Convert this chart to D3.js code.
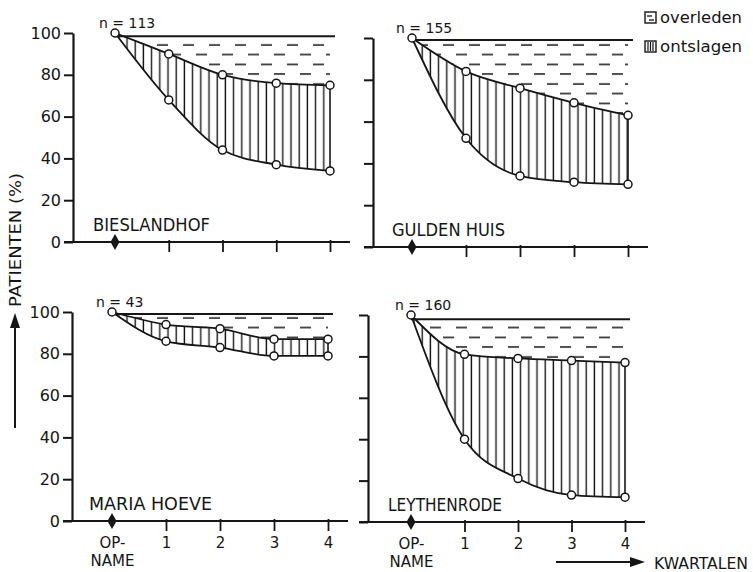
<!DOCTYPE html>
<html><head><meta charset="utf-8">
<script src="https://cdn.jsdelivr.net/npm/d3@7"></script>
<style>body{margin:0;background:#fff} svg{display:block}</style>
</head><body><svg id="c" width="753" height="572"></svg>
<script>
// ---- data ----
const xCategories = ["OP-NAME", "1", "2", "3", "4"];
const yTickValues = [0, 20, 40, 60, 80, 100];
const panelNames = ["BIESLANDHOF", "GULDEN HUIS", "MARIA HOEVE", "LEYTHENRODE"];
const nValues = [113, 155, 43, 160];
const topLineValues = [98.5, 99, 99, 98];
const upperBieslandhof = [100, 90, 80, 76, 75];
const lowerBieslandhof = [100, 68, 44, 37, 34];
const upperGuldenHuis = [100, 84, 76, 69, 63];
const lowerGuldenHuis = [100, 52, 34, 31, 30];
const upperMariaHoeve = [100, 94, 92, 87, 87];
const lowerMariaHoeve = [100, 86, 83, 79, 79];
const upperLeythenrode = [100, 81, 79, 78, 77];
const lowerLeythenrode = [100, 40, 21, 13, 12];
const legendLabels = ["overleden", "ontslagen"];
const yAxisTitle = "PATIENTEN (%)";
const xAxisTitle = "KWARTALEN";

const panelUpper = [upperBieslandhof, upperGuldenHuis, upperMariaHoeve, upperLeythenrode];
const panelLower = [lowerBieslandhof, lowerGuldenHuis, lowerMariaHoeve, lowerLeythenrode];

// ---- layout ----
const frames = [
  {axisX: 73,  opX: 115, lastX: 330, y0: 242, y100: 33,  yLabels: true,  xLabels: false, nameX: 93,  nameW: 117},
  {axisX: 373, opX: 412, lastX: 628, y0: 247, y100: 38,  yLabels: false, xLabels: false, nameX: 392, nameW: 113},
  {axisX: 72,  opX: 112, lastX: 328, y0: 521, y100: 312, yLabels: true,  xLabels: true,  nameX: 89,  nameW: 123},
  {axisX: 368, opX: 411, lastX: 625, y0: 522, y100: 315, yLabels: false, xLabels: true,  nameX: 388, nameW: 114}
];

const ink = "#161616";
const svg = d3.select("#c");
svg.append("rect").attr("width", 753).attr("height", 572).attr("fill", "#fff");

const defs = svg.append("defs");
const pv = defs.append("pattern").attr("id", "vert").attr("patternUnits", "userSpaceOnUse")
  .attr("width", 8.2).attr("height", 10);
pv.append("line").attr("x1", 4).attr("x2", 4).attr("y1", 0).attr("y2", 10)
  .attr("stroke", ink).attr("stroke-width", 1.4);
const pd = defs.append("pattern").attr("id", "dash").attr("patternUnits", "userSpaceOnUse")
  .attr("width", 26).attr("height", 19.5);
pd.append("line").attr("x1", 1).attr("x2", 12).attr("y1", 6).attr("y2", 6)
  .attr("stroke", ink).attr("stroke-width", 1.5);
pd.append("line").attr("x1", 14).attr("x2", 25).attr("y1", 15.5).attr("y2", 15.5)
  .attr("stroke", ink).attr("stroke-width", 1.5);

const font = "'DejaVu Sans', sans-serif";

frames.forEach((f, i) => {
  const g = svg.append("g");
  const x = d3.scalePoint().domain(xCategories).range([f.opX, f.lastX]);
  const y = d3.scaleLinear().domain([0, 100]).range([f.y0, f.y100]);
  const upper = panelUpper[i], lower = panelLower[i];
  const rows = xCategories.map((c, k) => ({c, top: topLineValues[i], up: upper[k], lo: lower[k]}));
  const curve = d3.curveMonotoneX;

  // hatched areas
  g.append("path").datum(rows)
    .attr("d", d3.area().curve(curve).x(d => x(d.c)).y0(d => y(d.top)).y1(d => y(d.up)))
    .attr("fill", "url(#dash)");
  g.append("path").datum(rows)
    .attr("d", d3.area().curve(curve).x(d => x(d.c)).y0(d => y(d.up)).y1(d => y(d.lo)))
    .attr("fill", "url(#vert)");

  // top line
  g.append("line").attr("x1", x(xCategories[0])).attr("x2", f.lastX + 5)
    .attr("y1", y(topLineValues[i])).attr("y2", y(topLineValues[i]))
    .attr("stroke", ink).attr("stroke-width", 2);
  // curves
  const line = d3.line().curve(curve).x(d => x(d.c));
  g.append("path").datum(rows).attr("d", line.y(d => y(d.up)))
    .attr("fill", "none").attr("stroke", ink).attr("stroke-width", 1.8);
  g.append("path").datum(rows).attr("d", line.y(d => y(d.lo)))
    .attr("fill", "none").attr("stroke", ink).attr("stroke-width", 1.8);
  // right edge
  const last = rows[rows.length - 1];
  g.append("line").attr("x1", x(last.c)).attr("x2", x(last.c))
    .attr("y1", y(last.up)).attr("y2", y(last.lo))
    .attr("stroke", ink).attr("stroke-width", 1.6);

  // circles
  const pts = [];
  rows.forEach((d, k) => {
    pts.push({c: d.c, v: d.up});
    if (k > 0) pts.push({c: d.c, v: d.lo});
  });
  g.selectAll("circle.pt").data(pts).join("circle").attr("class", "pt")
    .attr("cx", d => x(d.c)).attr("cy", d => y(d.v)).attr("r", 4)
    .attr("fill", "#fff").attr("stroke", ink).attr("stroke-width", 1.5);

  // n label
  g.append("text").attr("x", x(xCategories[0]) - 16).attr("y", y(100) - 5)
    .attr("font-family", font).attr("font-size", 14).attr("fill", ink)
    .text("n = " + nValues[i]);

  // y axis
  const ya = g.append("g").attr("transform", `translate(${f.axisX},0)`)
    .call(d3.axisLeft(y).tickValues(yTickValues).tickSize(9).tickSizeOuter(0).tickPadding(3)
      .tickFormat(f.yLabels ? d3.format("d") : () => ""));
  ya.select(".domain").attr("stroke", ink).attr("stroke-width", 2.2);
  ya.selectAll(".tick line").attr("stroke", ink).attr("stroke-width", 2);
  ya.selectAll(".tick text").attr("font-family", font).attr("font-size", 16).attr("fill", ink);

  // x axis
  const xa = g.append("g").attr("transform", `translate(0,${f.y0})`)
    .call(d3.axisBottom(x).tickSize(10).tickSizeOuter(0).tickPadding(6)
      .tickFormat(f.xLabels ? (d => d === xCategories[0] ? "OP-" : d) : () => ""));
  xa.select(".domain").remove();
  xa.insert("line", ":first-child").attr("x1", f.axisX - 9).attr("x2", f.lastX + 20)
    .attr("y1", 0).attr("y2", 0).attr("stroke", ink).attr("stroke-width", 2.2);
  xa.selectAll(".tick line").attr("stroke", ink).attr("stroke-width", 1.8)
    .attr("y1", -2)
    .attr("opacity", d => d === xCategories[0] ? 0 : 1);
  xa.selectAll(".tick text").attr("font-family", font).attr("font-size", 15).attr("fill", ink);
  if (f.xLabels) {
    // second line of the admission label
    xa.selectAll(".tick").filter(d => d === xCategories[0]).append("text")
      .attr("y", 34).attr("dy", "0.71em").attr("text-anchor", "middle")
      .attr("font-family", font).attr("font-size", 15).attr("fill", ink).text("NAME");
  }
  // diamond at admission
  const ox = x(xCategories[0]);
  g.append("path").attr("d", `M${ox},${f.y0 - 8}L${ox + 4.5},${f.y0}L${ox},${f.y0 + 8}L${ox - 4.5},${f.y0}Z`)
    .attr("fill", ink);

  // panel name
  g.append("text").attr("x", f.nameX).attr("y", f.y0 - 11)
    .attr("font-family", font).attr("font-size", 17).attr("fill", ink)
    .attr("textLength", f.nameW).attr("lengthAdjust", "spacingAndGlyphs")
    .text(panelNames[i]);
});

// y axis title + arrow
svg.append("text").attr("transform", "translate(21,240) rotate(-90)")
  .attr("text-anchor", "middle").attr("font-family", font).attr("font-size", 16).attr("fill", ink)
  .attr("textLength", 134).attr("lengthAdjust", "spacingAndGlyphs").text(yAxisTitle);
svg.append("line").attr("x1", 15).attr("x2", 15).attr("y1", 428).attr("y2", 326)
  .attr("stroke", ink).attr("stroke-width", 2);
svg.append("path").attr("d", "M15,313L10,328L20,328Z").attr("fill", ink);

// x axis title + arrow
svg.append("line").attr("x1", 556).attr("x2", 632).attr("y1", 562).attr("y2", 562)
  .attr("stroke", ink).attr("stroke-width", 2);
svg.append("path").attr("d", "M645,562L630,557L630,567Z").attr("fill", ink);
svg.append("text").attr("x", 654).attr("y", 569)
  .attr("font-family", font).attr("font-size", 16).attr("fill", ink)
  .attr("textLength", 94).attr("lengthAdjust", "spacingAndGlyphs").text(xAxisTitle);

// legend
const lg = svg.append("g");
legendLabels.forEach((lab, k) => {
  const yy = 12 + k * 29;
  lg.append("rect").attr("x", 645).attr("y", yy).attr("width", 11).attr("height", 11)
    .attr("fill", "#fff").attr("stroke", ink).attr("stroke-width", 1.4);
  if (k === 0) {
    lg.append("line").attr("x1", 647).attr("x2", 652).attr("y1", yy + 4).attr("y2", yy + 4).attr("stroke", ink).attr("stroke-width", 1.3);
    lg.append("line").attr("x1", 649).attr("x2", 654).attr("y1", yy + 8).attr("y2", yy + 8).attr("stroke", ink).attr("stroke-width", 1.3);
  } else {
    [648, 650.5, 653].forEach(xx => lg.append("line").attr("x1", xx).attr("x2", xx)
      .attr("y1", yy + 1).attr("y2", yy + 10).attr("stroke", ink).attr("stroke-width", 1.2));
  }
  lg.append("text").attr("x", 660).attr("y", yy + 11)
    .attr("font-family", font).attr("font-size", 15).attr("fill", ink)
    .attr("textLength", 82).attr("lengthAdjust", "spacingAndGlyphs").text(lab);
});
</script>
</body></html>
